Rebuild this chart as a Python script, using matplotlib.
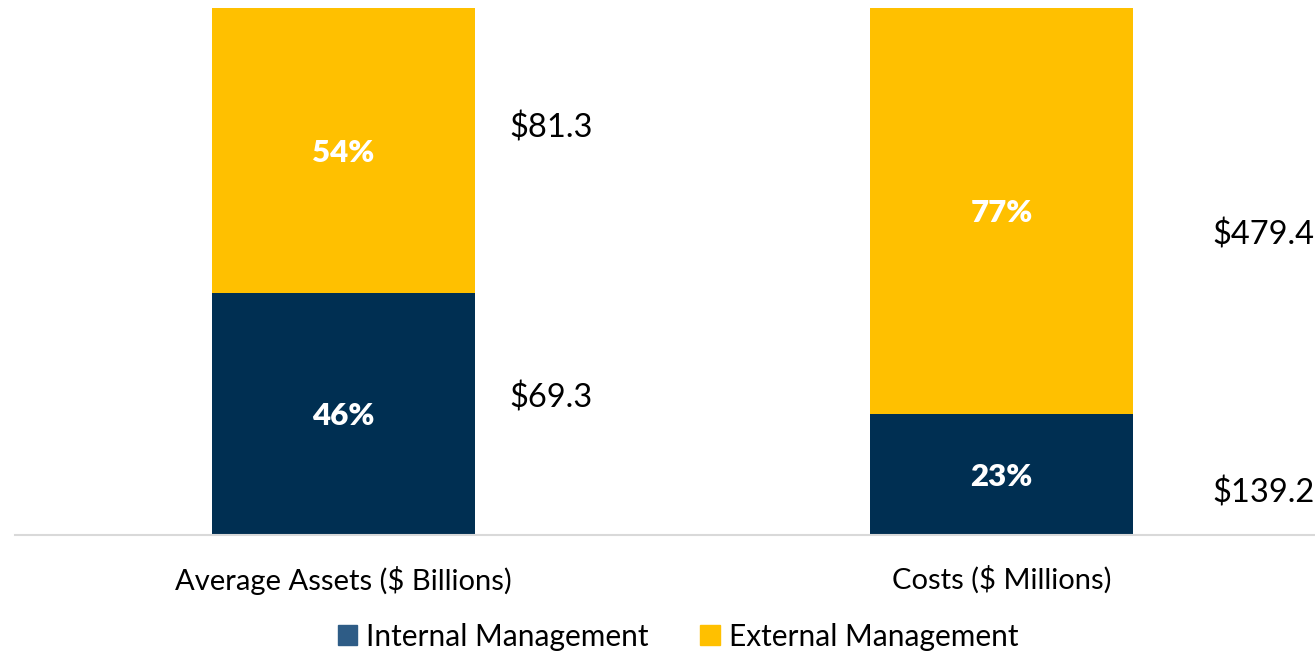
import numpy as np
import matplotlib.pyplot as plt
from matplotlib.patches import Patch

categories = ['Average Assets ($ Billions)', 'Costs ($ Millions)']
internal_pct = [46, 23]
external_pct = [54, 77]
internal_val = ['$69.3', '$139.2']
external_val = ['$81.3', '$479.4']

navy = '#002F52'
gold = '#FFC000'
legend_navy = '#2E5C86'

plt.rcParams['font.family'] = ['Lato', 'DejaVu Sans']

fig = plt.figure(figsize=(13.15, 6.51), dpi=100)
ax = fig.add_axes([15 / 1315, (651 - 535) / 651, 1300 / 1315, 527 / 651])

x = np.arange(len(categories))
inner = np.array(internal_pct) / 100
outer = np.array(external_pct) / 100
ax.bar(x, inner, width=0.4, color=navy)
ax.bar(x, outer, width=0.4, bottom=inner, color=gold)

for i in range(len(x)):
    ax.text(x[i], inner[i] / 2, f'{internal_pct[i]}%', ha='center', va='center_baseline',
            color='white', fontsize=22.5, fontweight='heavy')
    ax.text(x[i], inner[i] + outer[i] / 2, f'{external_pct[i]}%', ha='center',
            va='center_baseline', color='white', fontsize=22.5, fontweight='heavy')

# dollar labels to the right of each bar
val_x = [0.252, 0.32]
val_y_int = [0.26, 0.08]
val_y_ext = [0.773, 0.57]
for i in range(len(x)):
    ax.text(x[i] + val_x[i], val_y_int[i], internal_val[i], ha='left', va='center',
            fontsize=23.5, color='black', clip_on=False)
    ax.text(x[i] + val_x[i], val_y_ext[i], external_val[i], ha='left', va='center',
            fontsize=23.5, color='black', clip_on=False)

ax.set_xlim(-0.4992, 1.4764)
ax.set_ylim(0, 1)
ax.set_xticks(x)
ax.set_xticklabels(categories, fontsize=21)
ax.tick_params(axis='x', length=0, pad=22)
ax.set_yticks([])
for s in ['top', 'right', 'left']:
    ax.spines[s].set_visible(False)
ax.spines['bottom'].set_color('#D9D9D9')
ax.spines['bottom'].set_linewidth(1.5)

handles = [Patch(color=legend_navy, label='Internal Management'),
           Patch(color=gold, label='External Management')]
fig.legend(handles=handles, loc='center', bbox_to_anchor=(0.5156, 0.022), ncol=2,
           frameon=False, fontsize=21.5, handlelength=0.65, handleheight=0.65,
           handletextpad=0.3, columnspacing=1.73)

fig.savefig('out.png', dpi=100)
